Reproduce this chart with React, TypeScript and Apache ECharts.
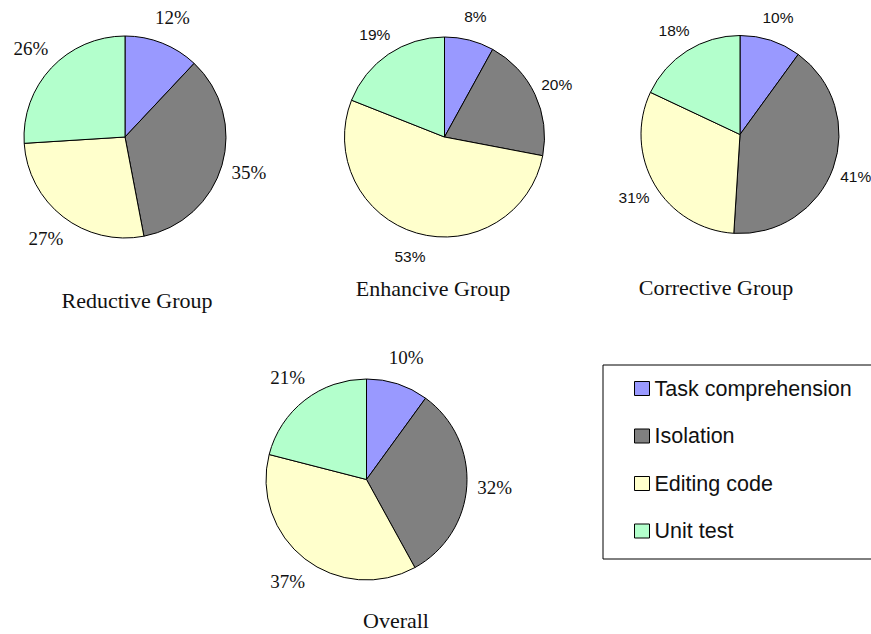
import React, { useEffect, useRef } from 'react';
import * as echarts from 'echarts';

const categories = ['Task comprehension', 'Isolation', 'Editing code', 'Unit test'];
const reductiveValues = [12, 35, 27, 26];
const enhanciveValues = [8, 20, 53, 19];
const correctiveValues = [10, 41, 31, 18];
const overallValues = [10, 32, 37, 21];
const groupTitles = ['Reductive Group', 'Enhancive Group', 'Corrective Group', 'Overall'];
const groupValues = [reductiveValues, enhanciveValues, correctiveValues, overallValues];

const sliceColors = ['#9999FF', '#808080', '#FFFFCC', '#B3FFCC'];

const W = 871;
const H = 634;
const PAD = 400;

// layout per pie (positions/sizes only)
const pieLayout = [
  { cx: 125, cy: 137, r: 101, serif: true, titleX: 137, titleY: 300.5 },
  { cx: 444.5, cy: 137, r: 100, serif: false, titleX: 433, titleY: 288 },
  { cx: 740, cy: 134.5, r: 99, serif: false, titleX: 716, titleY: 287 },
  { cx: 366.5, cy: 479.5, r: 100.5, serif: true, titleX: 396, titleY: 620.5 },
];

const SERIF = '"Liberation Serif", "Times New Roman", serif';
const SANS = '"Liberation Sans", Arial, sans-serif';

export default function App() {
  const ref = useRef<HTMLDivElement>(null);

  useEffect(() => {
    document.body.style.margin = '0';
    if (!ref.current) return;
    const chart = echarts.init(ref.current, null, { renderer: 'svg' });

    const series = groupTitles.map((name, gi) => {
      const L = pieLayout[gi];
      return {
        type: 'pie',
        name,
        left: -PAD,
        top: -PAD,
        width: W + 2 * PAD,
        height: H + 2 * PAD,
        center: [L.cx + PAD, L.cy + PAD],
        radius: L.r,
        startAngle: 90,
        clockwise: true,
        avoidLabelOverlap: false,
        silent: true,
        emphasis: { disabled: true },
        data: categories.map((c, i) => ({ name: c, value: groupValues[gi][i] })),
        itemStyle: { borderColor: '#000', borderWidth: 1 },
        label: {
          show: true,
          position: 'outside',
          formatter: '{c}%',
          fontFamily: L.serif ? SERIF : SANS,
          fontSize: L.serif ? 19 : 15.5,
          color: '#111',
          distanceToLabelLine: 0,
        },
        labelLine: { show: false, length: L.serif ? 28 : 24, length2: 0 },
        labelLayout: { align: 'center', verticalAlign: 'middle' },
      };
    });

    const titles = groupTitles.map((t, gi) => ({
      text: t,
      left: pieLayout[gi].titleX,
      top: pieLayout[gi].titleY - 11,
      textAlign: 'center',
      padding: 0,
      textStyle: {
        fontFamily: SERIF,
        fontSize: 22,
        fontWeight: 'normal',
        color: '#111',
      },
    }));

    chart.setOption({
      animation: false,
      backgroundColor: '#fff',
      color: sliceColors,
      title: titles,
      legend: {
        orient: 'vertical',
        left: 603,
        top: 365,
        data: categories,
        icon: 'rect',
        itemWidth: 15,
        itemHeight: 14,
        itemGap: 25.5,
        padding: [12.5, 40, 17, 31],
        borderColor: '#000',
        borderWidth: 1,
        backgroundColor: '#fff',
        selectedMode: false,
        itemStyle: { borderColor: '#000', borderWidth: 1 },
        textStyle: { fontFamily: SANS, fontSize: 21.5, color: '#111' },
      },
      series,
    });

    return () => chart.dispose();
  }, []);

  return <div ref={ref} style={{ width: W, height: H }} />;
}
